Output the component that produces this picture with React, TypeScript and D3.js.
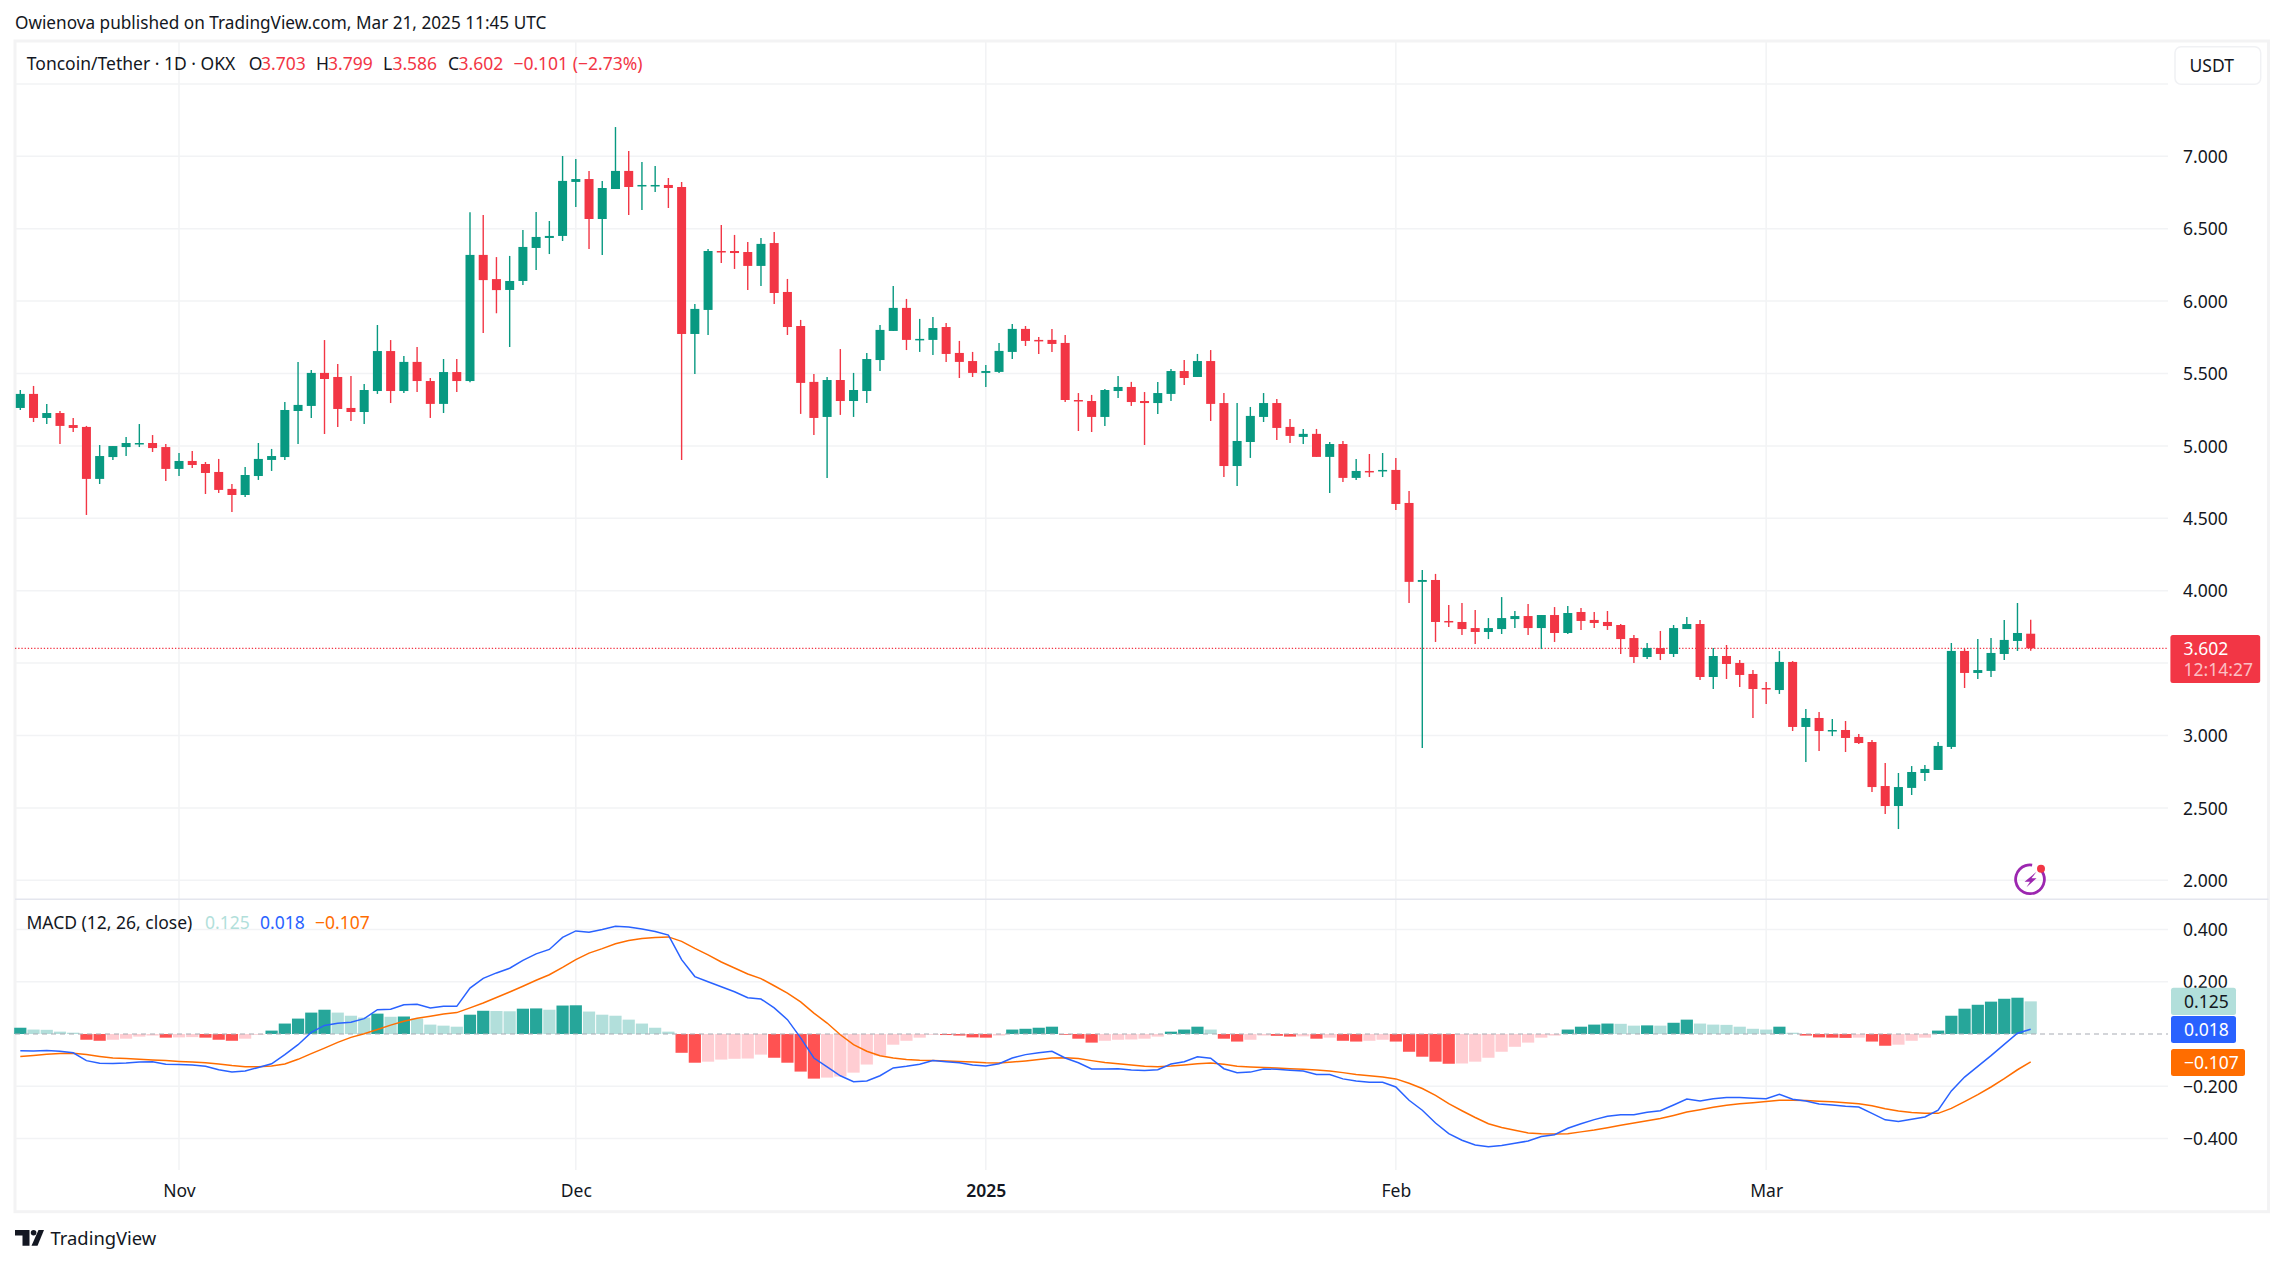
import { useEffect, useRef } from "react";
import * as d3 from "d3";

const opens = [5.262,5.359,5.193,5.227,5.144,5.131,4.772,4.923,4.992,5.013,5.020,4.992,4.841,4.896,4.875,4.820,4.703,4.661,4.792,4.903,4.923,5.241,5.276,5.504,5.476,5.262,5.234,5.379,5.655,5.379,5.580,5.448,5.290,5.510,5.448,6.319,6.152,6.077,6.139,6.367,6.436,6.450,6.823,6.843,6.567,6.774,6.899,6.795,6.795,6.802,6.788,5.773,5.939,6.346,6.346,6.339,6.243,6.401,6.063,5.828,5.442,5.200,5.455,5.310,5.379,5.593,5.794,5.953,5.732,5.732,5.821,5.642,5.586,5.504,5.511,5.649,5.808,5.732,5.732,5.711,5.317,5.310,5.200,5.379,5.407,5.310,5.296,5.359,5.517,5.476,5.586,5.296,4.861,5.027,5.200,5.296,5.131,5.062,5.083,4.924,5.013,4.779,4.827,4.827,4.834,4.606,4.061,4.074,3.791,3.784,3.742,3.715,3.735,3.804,3.825,3.742,3.832,3.708,3.853,3.798,3.784,3.763,3.673,3.542,3.604,3.563,3.735,3.770,3.404,3.549,3.501,3.425,3.328,3.314,3.508,3.059,3.121,3.031,3.038,2.990,2.955,2.651,2.513,2.638,2.741,2.762,2.921,3.584,3.432,3.446,3.563,3.653,3.703];
const highs = [5.386,5.414,5.289,5.241,5.193,5.138,5.006,4.999,5.061,5.151,5.075,5.013,4.951,4.965,4.889,4.910,4.737,4.855,5.020,4.979,5.303,5.580,5.525,5.731,5.566,5.483,5.428,5.835,5.731,5.621,5.683,5.469,5.600,5.600,6.614,6.595,6.304,6.312,6.491,6.616,6.553,7.002,6.982,6.899,6.830,7.202,7.037,6.961,6.933,6.850,6.823,5.980,6.360,6.526,6.457,6.408,6.436,6.477,6.153,5.870,5.497,5.476,5.669,5.504,5.642,5.835,6.104,6.015,5.877,5.890,5.849,5.725,5.649,5.559,5.711,5.842,5.828,5.752,5.808,5.766,5.365,5.352,5.393,5.483,5.442,5.372,5.442,5.531,5.593,5.635,5.662,5.365,5.296,5.269,5.365,5.324,5.186,5.117,5.117,5.027,5.034,4.910,4.944,4.951,4.917,4.689,4.143,4.116,3.901,3.915,3.867,3.811,3.956,3.860,3.908,3.832,3.887,3.894,3.880,3.853,3.860,3.770,3.694,3.639,3.722,3.763,3.818,3.798,3.604,3.625,3.521,3.452,3.369,3.583,3.514,3.183,3.162,3.114,3.100,3.010,2.969,2.810,2.741,2.789,2.796,2.955,3.639,3.598,3.667,3.673,3.798,3.915,3.799];
const lows = [5.248,5.165,5.151,5.013,5.096,4.523,4.737,4.903,4.930,4.992,4.958,4.758,4.792,4.847,4.668,4.675,4.544,4.647,4.765,4.827,4.903,5.013,5.193,5.082,5.131,5.172,5.151,5.359,5.296,5.365,5.372,5.193,5.227,5.372,5.440,5.780,5.916,5.683,6.111,6.215,6.325,6.415,6.650,6.360,6.319,6.774,6.595,6.629,6.754,6.643,4.903,5.497,5.766,6.263,6.222,6.077,6.104,5.980,5.766,5.221,5.075,4.778,5.214,5.200,5.296,5.517,5.794,5.662,5.649,5.628,5.580,5.469,5.476,5.407,5.504,5.601,5.690,5.635,5.649,5.303,5.103,5.096,5.138,5.331,5.276,5.006,5.221,5.310,5.421,5.476,5.172,4.785,4.723,4.917,5.165,5.041,5.020,5.013,4.924,4.675,4.751,4.765,4.785,4.785,4.558,3.915,2.914,3.646,3.749,3.694,3.632,3.666,3.701,3.742,3.694,3.597,3.646,3.701,3.729,3.742,3.729,3.563,3.501,3.528,3.521,3.542,3.735,3.383,3.321,3.390,3.335,3.121,3.217,3.287,3.031,2.817,2.893,2.996,2.886,2.941,2.610,2.458,2.354,2.589,2.686,2.762,2.907,3.328,3.390,3.404,3.522,3.584,3.586];
const closes = [5.359,5.193,5.227,5.138,5.124,4.772,4.930,4.999,5.020,5.020,4.985,4.841,4.896,4.868,4.813,4.696,4.661,4.799,4.910,4.930,5.248,5.283,5.504,5.462,5.255,5.234,5.386,5.655,5.379,5.580,5.448,5.290,5.510,5.448,6.319,6.145,6.076,6.139,6.374,6.443,6.450,6.830,6.843,6.567,6.781,6.899,6.788,6.802,6.802,6.781,5.773,5.946,6.346,6.339,6.332,6.243,6.395,6.056,5.821,5.435,5.193,5.455,5.310,5.386,5.600,5.801,5.953,5.732,5.739,5.814,5.635,5.580,5.504,5.517,5.656,5.808,5.725,5.725,5.704,5.317,5.310,5.200,5.386,5.407,5.303,5.296,5.365,5.517,5.469,5.586,5.290,4.861,5.034,5.207,5.296,5.124,5.069,5.083,4.924,5.013,4.779,4.827,4.820,4.834,4.599,4.061,4.074,3.784,3.784,3.735,3.715,3.742,3.811,3.825,3.742,3.832,3.708,3.846,3.791,3.777,3.756,3.666,3.542,3.604,3.563,3.742,3.770,3.404,3.549,3.494,3.418,3.321,3.321,3.508,3.059,3.121,3.031,3.038,2.983,2.948,2.644,2.513,2.644,2.748,2.769,2.928,3.584,3.432,3.452,3.570,3.660,3.708,3.602];

const histValues = [0.024,0.017,0.016,0.009,0.005,-0.022,-0.026,-0.022,-0.018,-0.010,-0.006,-0.014,-0.013,-0.012,-0.014,-0.022,-0.026,-0.018,-0.003,0.013,0.040,0.059,0.082,0.093,0.082,0.070,0.063,0.078,0.066,0.067,0.059,0.036,0.032,0.028,0.074,0.089,0.088,0.087,0.097,0.098,0.093,0.109,0.110,0.086,0.074,0.070,0.055,0.040,0.024,0.009,-0.072,-0.110,-0.106,-0.098,-0.095,-0.094,-0.079,-0.091,-0.110,-0.144,-0.171,-0.167,-0.163,-0.148,-0.117,-0.083,-0.041,-0.026,-0.014,-0.003,-0.004,-0.006,-0.013,-0.014,-0.006,0.017,0.020,0.024,0.028,-0.003,-0.018,-0.033,-0.026,-0.022,-0.021,-0.018,-0.010,0.009,0.017,0.028,0.017,-0.018,-0.029,-0.022,-0.006,-0.007,-0.010,-0.009,-0.018,-0.014,-0.026,-0.029,-0.026,-0.022,-0.029,-0.068,-0.087,-0.106,-0.114,-0.113,-0.106,-0.091,-0.068,-0.049,-0.033,-0.014,-0.006,0.017,0.028,0.036,0.040,0.039,0.032,0.033,0.032,0.043,0.055,0.040,0.036,0.035,0.028,0.020,0.017,0.028,0.005,-0.006,-0.013,-0.014,-0.015,-0.014,-0.029,-0.045,-0.041,-0.026,-0.014,0.013,0.070,0.097,0.112,0.124,0.135,0.139,0.125];
const macdValues = [-0.064,-0.065,-0.063,-0.066,-0.072,-0.102,-0.112,-0.113,-0.111,-0.107,-0.106,-0.116,-0.117,-0.119,-0.124,-0.137,-0.146,-0.142,-0.128,-0.114,-0.079,-0.041,0.006,0.033,0.041,0.045,0.059,0.093,0.095,0.112,0.114,0.100,0.106,0.106,0.176,0.213,0.234,0.252,0.282,0.307,0.324,0.370,0.395,0.390,0.400,0.413,0.410,0.402,0.393,0.379,0.285,0.220,0.200,0.181,0.162,0.139,0.134,0.100,0.055,-0.015,-0.092,-0.126,-0.160,-0.183,-0.180,-0.160,-0.130,-0.124,-0.116,-0.102,-0.106,-0.110,-0.119,-0.123,-0.114,-0.092,-0.079,-0.072,-0.066,-0.092,-0.110,-0.134,-0.134,-0.133,-0.138,-0.140,-0.137,-0.115,-0.106,-0.087,-0.093,-0.133,-0.148,-0.146,-0.134,-0.135,-0.139,-0.142,-0.155,-0.155,-0.172,-0.180,-0.185,-0.185,-0.203,-0.254,-0.292,-0.341,-0.382,-0.407,-0.425,-0.432,-0.427,-0.419,-0.410,-0.393,-0.386,-0.361,-0.344,-0.328,-0.315,-0.309,-0.309,-0.300,-0.294,-0.272,-0.249,-0.257,-0.248,-0.243,-0.243,-0.246,-0.248,-0.231,-0.250,-0.257,-0.268,-0.272,-0.277,-0.280,-0.304,-0.329,-0.335,-0.327,-0.318,-0.292,-0.218,-0.165,-0.124,-0.083,-0.040,0.003,0.018];
const signalValues = [-0.086,-0.082,-0.078,-0.075,-0.074,-0.079,-0.086,-0.092,-0.094,-0.097,-0.100,-0.102,-0.105,-0.107,-0.110,-0.115,-0.121,-0.125,-0.125,-0.123,-0.115,-0.097,-0.075,-0.054,-0.032,-0.013,0.001,0.017,0.034,0.049,0.060,0.068,0.077,0.082,0.100,0.119,0.140,0.161,0.183,0.206,0.227,0.255,0.285,0.310,0.327,0.346,0.358,0.366,0.370,0.372,0.355,0.328,0.303,0.276,0.253,0.230,0.212,0.185,0.157,0.123,0.080,0.042,-0.003,-0.041,-0.066,-0.083,-0.092,-0.098,-0.101,-0.102,-0.103,-0.105,-0.107,-0.110,-0.111,-0.107,-0.103,-0.098,-0.092,-0.091,-0.094,-0.102,-0.109,-0.114,-0.119,-0.124,-0.125,-0.123,-0.119,-0.114,-0.111,-0.116,-0.124,-0.126,-0.128,-0.130,-0.133,-0.135,-0.138,-0.142,-0.148,-0.155,-0.160,-0.165,-0.172,-0.189,-0.209,-0.235,-0.267,-0.294,-0.320,-0.344,-0.358,-0.369,-0.379,-0.382,-0.383,-0.382,-0.375,-0.368,-0.359,-0.350,-0.341,-0.332,-0.324,-0.312,-0.299,-0.290,-0.281,-0.273,-0.267,-0.263,-0.259,-0.254,-0.254,-0.255,-0.258,-0.260,-0.263,-0.267,-0.275,-0.286,-0.295,-0.301,-0.304,-0.304,-0.285,-0.259,-0.232,-0.203,-0.171,-0.137,-0.107];

const firstDay = new Date(Date.UTC(2024, 9, 20));
const days = opens.map((_, i) => d3.utcDay.offset(firstDay, i));
const lastClose = 3.602;

// 3.500 sits under the last price tag, so it has a grid line but no label
const priceTicks = [2, 2.5, 3, 4, 4.5, 5, 5.5, 6, 6.5, 7];
const priceGrid = [...priceTicks, 3.5, 7.5];
const macdTicks = [-0.4, -0.2, 0.2, 0.4];
const monthTicks = [
  new Date(Date.UTC(2024, 10, 1)),
  new Date(Date.UTC(2024, 11, 1)),
  new Date(Date.UTC(2025, 0, 1)),
  new Date(Date.UTC(2025, 1, 1)),
  new Date(Date.UTC(2025, 2, 1)),
];
const monthLabels = ["Nov", "Dec", "2025", "Feb", "Mar"];

const FONT = "'Noto Sans', sans-serif";
const UP = "#089981";
const DOWN = "#F23645";
const INK = "#131722";
const GRID = "#F2F3F5";
const WIDTH = 2283;
const HEIGHT = 1265;
const LEFT = 15;
const AXIS_X = 2168;
const RIGHT = 2268.5;
const TOP = 41;
const PANE_SPLIT = 899.3;
const BOTTOM = 1211.7;
const TIME_BOTTOM = 1170;
const BODY_W = 9;
const HIST_W = 12.2;

export default function App() {
  const svgRef = useRef<SVGSVGElement | null>(null);

  useEffect(() => {
    if (!svgRef.current) return;
    const svg = d3.select(svgRef.current);
    svg.selectAll("*").remove();

    const x = d3.scaleUtc()
      .domain([days[0], days[days.length - 1]])
      .range([20.3, 2030.7]);
    const y = d3.scaleLinear().domain([2, 7]).range([880.3, 156.3]);
    const yMacd = d3.scaleLinear().domain([-0.4, 0.4]).range([1138.4, 929.6]);

    // Frame and grid
    const grid = svg.append("g").attr("stroke", GRID).attr("stroke-width", 1.5);
    grid.selectAll(".h").data(priceGrid).enter().append("line")
      .attr("x1", LEFT).attr("x2", AXIS_X)
      .attr("y1", d => y(d)).attr("y2", d => y(d));
    grid.selectAll(".m").data(macdTicks).enter().append("line")
      .attr("x1", LEFT).attr("x2", AXIS_X)
      .attr("y1", d => yMacd(d)).attr("y2", d => yMacd(d));
    grid.selectAll(".v").data(monthTicks).enter().append("line")
      .attr("x1", d => x(d)).attr("x2", d => x(d))
      .attr("y1", TOP).attr("y2", TIME_BOTTOM);

    svg.append("rect")
      .attr("x", LEFT).attr("y", TOP)
      .attr("width", RIGHT - LEFT).attr("height", BOTTOM - TOP)
      .attr("fill", "none").attr("stroke", "#F3F3F4").attr("stroke-width", 3);
    svg.append("line")
      .attr("x1", LEFT).attr("x2", RIGHT)
      .attr("y1", PANE_SPLIT).attr("y2", PANE_SPLIT)
      .attr("stroke", "#E4E6EE").attr("stroke-width", 1.5);

    // Last price line
    svg.append("line")
      .attr("x1", LEFT).attr("x2", AXIS_X)
      .attr("y1", y(lastClose)).attr("y2", y(lastClose))
      .attr("stroke", DOWN).attr("stroke-width", 1.1)
      .attr("stroke-dasharray", "1.3 1.9");

    // Candles
    const candles = svg.append("g").selectAll("g").data(days).enter().append("g")
      .attr("fill", (_, i) => (closes[i] >= opens[i] ? UP : DOWN))
      .attr("stroke", (_, i) => (closes[i] >= opens[i] ? UP : DOWN));
    candles.append("line")
      .attr("x1", d => x(d)).attr("x2", d => x(d))
      .attr("y1", (_, i) => y(highs[i])).attr("y2", (_, i) => y(lows[i]))
      .attr("stroke-width", 1.4);
    candles.append("rect")
      .attr("stroke", "none")
      .attr("x", d => x(d) - BODY_W / 2)
      .attr("width", BODY_W)
      .attr("y", (_, i) => y(Math.max(opens[i], closes[i])))
      .attr("height", (_, i) => Math.max(1.5, Math.abs(y(opens[i]) - y(closes[i]))));

    // MACD histogram: stronger colour while the bar keeps growing away from zero
    const histColor = (v: number, i: number) => {
      const prev = i > 0 ? histValues[i - 1] : 0;
      if (v >= 0) return v > prev ? "#26A69A" : "#B2DFDB";
      return v < prev ? "#FF5252" : "#FFCDD2";
    };
    svg.append("g").selectAll("rect").data(histValues).enter().append("rect")
      .attr("x", (_, i) => x(days[i]) - HIST_W / 2)
      .attr("width", HIST_W)
      .attr("y", d => yMacd(Math.max(d, 0)))
      .attr("height", d => Math.abs(yMacd(d) - yMacd(0)))
      .attr("fill", histColor);
    svg.append("line")
      .attr("x1", LEFT).attr("x2", AXIS_X)
      .attr("y1", yMacd(0)).attr("y2", yMacd(0))
      .attr("stroke", "#A8ABB3").attr("stroke-width", 1.2)
      .attr("stroke-dasharray", "5 4");

    const line = d3.line<number>()
      .x((_, i) => x(days[i]))
      .y(d => yMacd(d));
    svg.append("path").attr("d", line(signalValues))
      .attr("fill", "none").attr("stroke", "#FF6D00").attr("stroke-width", 1.5);
    svg.append("path").attr("d", line(macdValues))
      .attr("fill", "none").attr("stroke", "#2962FF").attr("stroke-width", 1.5);

    // Axes
    const styleAxis = (g: d3.Selection<SVGGElement, unknown, null, undefined>) => {
      g.select(".domain").remove();
      g.selectAll("text")
        .attr("fill", INK)
        .style("font-family", FONT)
        .style("font-size", "17.5px");
    };
    const axisFormat = d3.format(".3f");
    svg.append("g")
      .attr("transform", `translate(${AXIS_X + 15},0.5)`)
      .call(d3.axisRight(y).tickValues(priceTicks).tickFormat(v => axisFormat(v as number)).tickSize(0).tickPadding(0))
      .call(styleAxis);
    svg.append("g")
      .attr("transform", `translate(${AXIS_X + 15},0.5)`)
      .call(d3.axisRight(yMacd).tickValues(macdTicks).tickFormat(v => axisFormat(v as number)).tickSize(0).tickPadding(0))
      .call(styleAxis);
    svg.append("g")
      .attr("transform", "translate(0,1185)")
      .call(d3.axisBottom(x).tickValues(monthTicks).tickFormat((_, i) => monthLabels[i]).tickSize(0).tickPadding(0))
      .call(styleAxis)
      .selectAll("text")
      .style("font-weight", (_, i) => (monthLabels[i] === "2025" ? 600 : 400));

    // Text helper
    const label = (
      txt: string, tx: number, ty: number, fill: string,
      size = 17.5, anchor = "start", opacity = 1,
    ) => svg.append("text")
      .text(txt)
      .attr("x", tx).attr("y", ty).attr("dy", "0.35em")
      .attr("fill", fill).attr("fill-opacity", opacity)
      .attr("text-anchor", anchor)
      .style("font-family", FONT).style("font-size", `${size}px`);

    label("Owienova published on TradingView.com, Mar 21, 2025 11:45 UTC", 15, 22.5, INK, 17.2);

    // Price legend
    label("Toncoin/Tether · 1D · OKX", 26.8, 64, INK);
    label("O", 248.7, 64, INK);
    label("3.703", 261, 64, DOWN);
    label("H", 316, 64, INK);
    label("3.799", 328, 64, DOWN);
    label("L", 383, 64, INK);
    label("3.586", 392.4, 64, DOWN);
    label("C", 448, 64, INK);
    label("3.602", 458.5, 64, DOWN);
    label("−0.101 (−2.73%)", 513.4, 64, DOWN);

    // MACD legend
    label("MACD (12, 26, close)", 26.5, 922.7, INK);
    label("0.125", 205, 922.7, "#B2DFDB");
    label("0.018", 260, 922.7, "#2962FF");
    label("−0.107", 315, 922.7, "#FF6D00");

    // Currency button
    svg.append("rect")
      .attr("x", 2175).attr("y", 46.7).attr("width", 85.7).attr("height", 37.6)
      .attr("rx", 6).attr("fill", "#fff").attr("stroke", "#F0F1F4").attr("stroke-width", 1.5);
    label("USDT", 2189.5, 65.5, INK);

    // Right hand value tags
    const tag = (tx0: number, ty0: number, tw: number, th: number, fill: string) =>
      svg.append("rect").attr("x", tx0).attr("y", ty0).attr("width", tw).attr("height", th)
        .attr("rx", 2.5).attr("fill", fill);
    tag(2170.4, 635, 89.8, 48, DOWN);
    label("3.602", 2183.5, 648.5, "#fff");
    label("12:14:27", 2183.5, 669.5, "#fff", 17.5, "start", 0.7);
    tag(2171, 987.7, 65, 27.3, "#B2DFDB");
    label("0.125", 2184, 1001.5, INK);
    tag(2171, 1016, 65, 27, "#2962FF");
    label("0.018", 2184, 1029.5, "#fff");
    tag(2171, 1049, 74, 27, "#FF6D00");
    label("−0.107", 2184, 1062.5, "#fff");

    // Bolt badge
    const badge = svg.append("g").attr("transform", "translate(2030,879.3)");
    badge.append("path")
      .attr("d", d3.arc()({ innerRadius: 13, outerRadius: 15.8, startAngle: 0.75, endAngle: Math.PI * 2 + 0.15 }) as string)
      .attr("fill", "#9C27B0");
    badge.append("path")
      .attr("d", "M6.5,-7.5 L-5.5,2.5 L0,2.5 L-3.5,8 L6.5,-1 L1.5,-1 Z")
      .attr("fill", "#9C27B0");
    badge.append("circle").attr("cx", 11).attr("cy", -10.6).attr("r", 4).attr("fill", "#F23645");

    // TradingView logo
    const logo = svg.append("g").attr("fill", INK);
    logo.append("path").attr("d", "M15,1230 H29.5 V1245.7 H22.5 V1235.5 H15 Z");
    logo.append("circle").attr("cx", 33.6).attr("cy", 1232.7).attr("r", 2.8);
    logo.append("path").attr("d", "M38.5,1230 H44 L37.5,1245.7 H31.5 Z");
    label("TradingView", 50.5, 1239, INK, 18.4);
  }, []);

  return (
    <svg
      ref={svgRef}
      width={WIDTH}
      height={HEIGHT}
      style={{ position: "absolute", left: 0, top: 0, display: "block", background: "#fff" }}
    ></svg>
  );
}
